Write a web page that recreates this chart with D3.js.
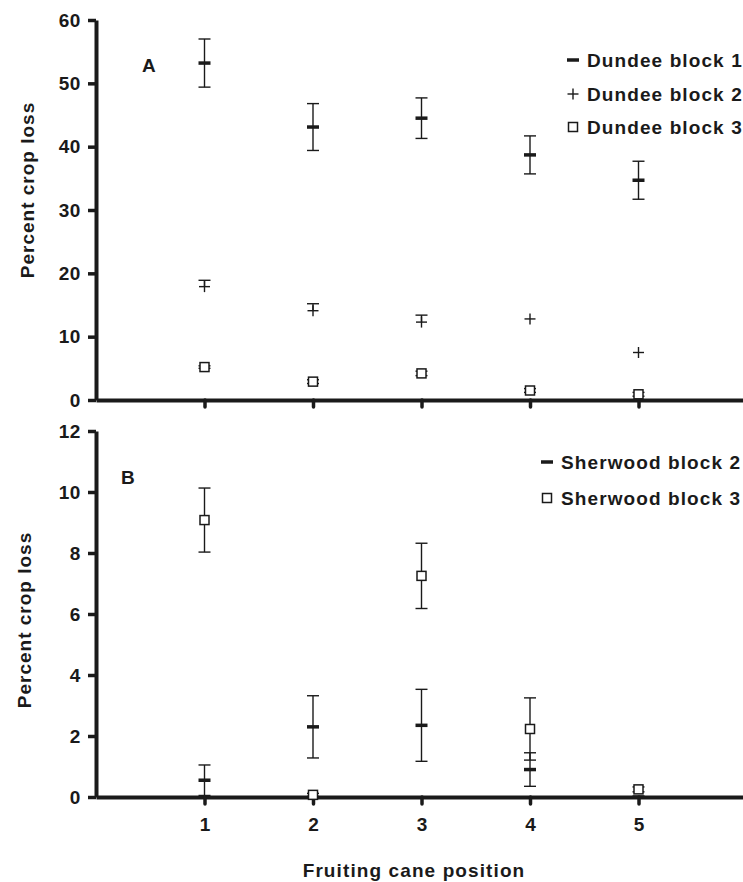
<!DOCTYPE html>
<html>
<head>
<meta charset="utf-8">
<script src="https://cdn.jsdelivr.net/npm/d3@7"></script>
<style>
  body { margin: 0; background: #fff; }
  text { font-family: "Liberation Sans", Arial, sans-serif; font-weight: bold; fill: #1a1a1a; }
</style>
</head>
<body>
<script>
// cane positions on the x axis
var positions = [1, 2, 3, 4, 5];

// panel A - Dundee
var dundee1 = [53.2, 43.1, 44.5, 38.7, 34.7];
var dundee1Err = [3.8, 3.7, 3.2, 3.0, 3.0];
var dundee2 = [17.9, 14.1, 12.3, 12.8, 7.5];
var dundee2Err = [1.0, 1.1, 1.1, 0, 0];
var dundee3 = [5.2, 2.9, 4.2, 1.5, 0.9];
var dundee3Err = [0.2, 0.3, 0.35, 0.3, 0.3];

// panel B - Sherwood
var sherwood2 = [0.55, 2.3, 2.35, 0.9, 0.0];
var sherwood2Err = [0.5, 1.02, 1.18, 0.55, 0.0];
var sherwood3 = [9.08, 0.07, 7.25, 2.23, 0.25];
var sherwood3Err = [1.05, 0.05, 1.07, 1.02, 0.08];

var yTicksA = [0, 10, 20, 30, 40, 50, 60];
var yTicksB = [0, 2, 4, 6, 8, 10, 12];

var width = 743;
var height = 882;

var svg = d3.select("body")
  .append("svg")
  .attr("width", width)
  .attr("height", height);

var x = d3.scaleLinear().domain([0, 6]).range([96, 747]);
var yA = d3.scaleLinear().domain([0, 60]).range([400, 20]);
var yB = d3.scaleLinear().domain([0, 12]).range([797, 431]);

var panels = [
  {
    y: yA, ticks: yTicksA, label: "A", labelX: 142, labelY: 72, titleX: 27, titleY: 190, showX: false,
    legendX: 573, legendY: [60, 94, 127],
    series: [
      { name: "Dundee block 1", marker: "dash", values: dundee1, err: dundee1Err, lower: true },
      { name: "Dundee block 2", marker: "plus", values: dundee2, err: dundee2Err, lower: false },
      { name: "Dundee block 3", marker: "square", values: dundee3, err: dundee3Err, lower: true }
    ]
  },
  {
    y: yB, ticks: yTicksB, label: "B", labelX: 121, labelY: 484, titleX: 24, titleY: 620, showX: true,
    legendX: 547, legendY: [462, 498],
    series: [
      { name: "Sherwood block 2", marker: "dash", values: sherwood2, err: sherwood2Err, lower: true },
      { name: "Sherwood block 3", marker: "square", values: sherwood3, err: sherwood3Err, lower: true }
    ]
  }
];

function drawMarker(g, type, cx, cy) {
  if (type == "dash") {
    g.append("line")
      .attr("x1", cx - 6).attr("x2", cx + 6)
      .attr("y1", cy).attr("y2", cy)
      .attr("stroke", "#1a1a1a").attr("stroke-width", 3.5);
  } else if (type == "plus") {
    g.append("line")
      .attr("x1", cx - 5.5).attr("x2", cx + 5.5)
      .attr("y1", cy).attr("y2", cy)
      .attr("stroke", "#1a1a1a").attr("stroke-width", 1.4);
    g.append("line")
      .attr("x1", cx).attr("x2", cx)
      .attr("y1", cy - 5.5).attr("y2", cy + 5.5)
      .attr("stroke", "#1a1a1a").attr("stroke-width", 1.4);
  } else {
    g.append("rect")
      .attr("x", cx - 4.5).attr("y", cy - 4.5)
      .attr("width", 9).attr("height", 9)
      .attr("fill", "#fff")
      .attr("stroke", "#1a1a1a").attr("stroke-width", 1.5);
  }
}

panels.forEach(function(p) {
  var y = p.y;
  var yRange = y.range();

  // y axis
  var yAxis = svg.append("g")
    .attr("transform", "translate(96,0)")
    .call(d3.axisLeft(y).tickValues(p.ticks).tickSize(8).tickSizeOuter(0).tickPadding(7));
  yAxis.select(".domain").attr("stroke", "#1a1a1a").attr("stroke-width", 4);
  yAxis.selectAll(".tick line").attr("stroke", "#1a1a1a").attr("stroke-width", 3.5);
  yAxis.selectAll(".tick text")
    .style("font-size", "19px")
    .style("letter-spacing", "0.6px")
    .attr("fill", "#1a1a1a");

  // x axis
  var xAxis = svg.append("g")
    .attr("transform", "translate(0," + yRange[0] + ")")
    .call(d3.axisBottom(x).tickValues(positions).tickSize(7).tickSizeOuter(0).tickPadding(14)
      .tickFormat(p.showX ? d3.format("d") : function() { return ""; }));
  xAxis.select(".domain").attr("stroke", "#1a1a1a").attr("stroke-width", 4);
  xAxis.selectAll(".tick line").attr("stroke", "#1a1a1a").attr("stroke-width", 3.5)
    .attr("stroke-linecap", "round");
  xAxis.selectAll(".tick text")
    .style("font-size", "19px")
    .attr("fill", "#1a1a1a");

  // y title
  svg.append("text")
    .attr("transform", "translate(" + p.titleX + "," + p.titleY + ") rotate(-90)")
    .attr("text-anchor", "middle")
    .attr("dy", "0.35em")
    .style("font-size", "19px")
    .style("letter-spacing", "1px")
    .text("Percent crop loss");

  // panel letter
  svg.append("text")
    .attr("x", p.labelX)
    .attr("y", p.labelY)
    .style("font-size", "19px")
    .text(p.label);

  // error bars first, then markers
  p.series.forEach(function(s) {
    var g = svg.append("g");
    positions.forEach(function(pos, i) {
      var v = s.values[i];
      var e = s.err[i];
      if (e <= 0) return;
      var cx = x(pos);
      var top = y(v + e);
      var bot = s.lower ? y(v - e) : y(v);
      g.append("line")
        .attr("x1", cx).attr("x2", cx)
        .attr("y1", top).attr("y2", bot)
        .attr("stroke", "#1a1a1a").attr("stroke-width", 1.4);
      g.append("line")
        .attr("x1", cx - 6).attr("x2", cx + 6)
        .attr("y1", top).attr("y2", top)
        .attr("stroke", "#1a1a1a").attr("stroke-width", 1.4);
      if (s.lower) {
        g.append("line")
          .attr("x1", cx - 6).attr("x2", cx + 6)
          .attr("y1", bot).attr("y2", bot)
          .attr("stroke", "#1a1a1a").attr("stroke-width", 1.4);
      }
    });
  });
  p.series.forEach(function(s) {
    var g = svg.append("g");
    positions.forEach(function(pos, i) {
      drawMarker(g, s.marker, x(pos), y(s.values[i]));
    });
  });

  // legend
  p.series.forEach(function(s, i) {
    var ly = p.legendY[i];
    var g = svg.append("g");
    drawMarker(g, s.marker, p.legendX, ly);
    g.append("text")
      .attr("x", p.legendX + 14)
      .attr("y", ly + 7)
      .style("font-size", "19px")
      .style("letter-spacing", "1.1px")
      .text(s.name);
  });
});

// x title
svg.append("text")
  .attr("x", 414)
  .attr("y", 877)
  .attr("text-anchor", "middle")
  .style("font-size", "19px")
  .style("letter-spacing", "1.1px")
  .text("Fruiting cane position");
</script>
</body>
</html>
